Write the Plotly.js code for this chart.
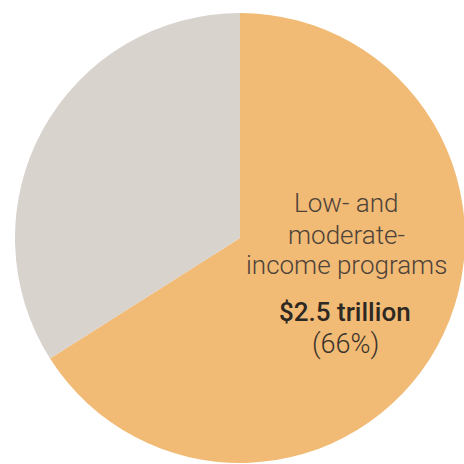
<!DOCTYPE html>
<html>
<head>
<meta charset="utf-8">
<script src="https://cdn.plot.ly/plotly-3.0.1.min.js"></script>
<style>
html,body{margin:0;padding:0;overflow:hidden;background:#fff;}
#chart{width:466px;height:466px;}
</style>
</head>
<body>
<div id="chart"></div>
<script>
// Data
const categories = ["Low- and moderate-income programs", "Other programs"];
const shares = [66, 34];
const sliceColors = ["#F1BA75", "#D9D3CE"];
const labelLines = ["Low- and", "moderate-", "income programs"];
const amountLine = "$2.5 trillion";
const percentLine = "(66%)";

const trace = {
  type: "pie",
  labels: categories,
  values: shares,
  sort: false,
  direction: "clockwise",
  rotation: 0,
  marker: {colors: sliceColors, line: {width: 0}},
  textinfo: "none",
  hoverinfo: "label+percent",
  showlegend: false
};

const W = 466, H = 466, ml = 15, mt = 13, pw = 450, ph = 450;
function px(x){ return (x - ml) / pw; }
function py(y){ return 1 - (y - mt) / ph; }

const cx = 346;
const lineY = [203, 235, 265];
const annotations = [];
labelLines.forEach((t, i) => {
  annotations.push({
    text: t, xref: "paper", yref: "paper", x: px(cx), y: py(lineY[i]),
    xanchor: "center", yanchor: "middle", showarrow: false,
    font: {family: "Roboto, sans-serif", size: 26, color: "#4E4339", weight: 300}
  });
});
annotations.push({
  text: amountLine, xref: "paper", yref: "paper", x: px(cx - 1), y: py(312),
  xanchor: "center", yanchor: "middle", showarrow: false,
  font: {family: "Roboto, sans-serif", size: 26, color: "#2E2822", weight: 500}
});
annotations.push({
  text: percentLine, xref: "paper", yref: "paper", x: px(cx - 1), y: py(344),
  xanchor: "center", yanchor: "middle", showarrow: false,
  font: {family: "Roboto, sans-serif", size: 27, color: "#3A322B", weight: 300}
});

const layout = {
  width: W, height: H,
  margin: {l: ml, t: mt, r: W - ml - pw, b: H - mt - ph, pad: 0},
  paper_bgcolor: "#ffffff",
  plot_bgcolor: "#ffffff",
  annotations: annotations
};

Plotly.newPlot("chart", [trace], layout, {displayModeBar: false, staticPlot: true});
</script>
</body>
</html>
